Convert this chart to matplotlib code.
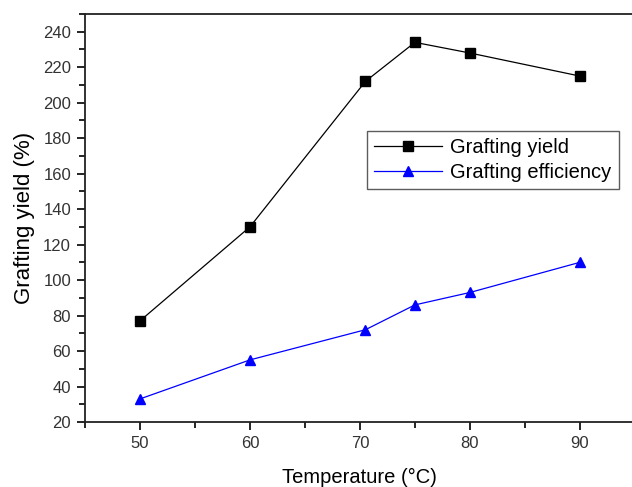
import matplotlib
matplotlib.use("Agg")
import matplotlib.pyplot as plt
from matplotlib.ticker import MultipleLocator

plt.rcParams['font.family'] = ['Liberation Sans', 'DejaVu Sans']

# data
temp = [50, 60, 70.5, 75, 80, 90]
yield_pct = [77, 130, 212, 234, 228, 215]
efficiency = [33, 55, 72, 86, 93, 110]

fig = plt.figure(figsize=(6.32, 4.87), dpi=100)
ax = fig.add_axes([0.1345, 0.1335, 0.870, 0.8378])

ax.plot(temp, yield_pct, color='black', lw=0.9, marker='s', ms=6.5,
        label='Grafting yield')
ax.plot(temp, efficiency, color='blue', lw=0.9, marker='^', ms=7.5,
        label='Grafting efficiency')

ax.set_xlim(45, 95)
ax.set_ylim(20, 250)
ax.set_xticks([50, 60, 70, 80, 90])
ax.set_yticks(range(20, 241, 20))
ax.xaxis.set_minor_locator(MultipleLocator(5))
ax.yaxis.set_minor_locator(MultipleLocator(10))
ax.tick_params(which='major', direction='out', length=6, width=1.2,
               labelsize=12, labelcolor='#333333', pad=4)
ax.tick_params(which='minor', direction='out', length=4, width=1.2)
for s in ax.spines.values():
    s.set_linewidth(1.3)
    s.set_color('#222222')

ax.set_xlabel('Temperature (°C)', fontsize=14.5, labelpad=12)
ax.set_ylabel('Grafting yield (%)', fontsize=16, labelpad=6)

leg = ax.legend(loc='upper left', bbox_to_anchor=(0.494, 0.738), fontsize=14.5,
                frameon=True, fancybox=False, edgecolor='#333333',
                handlelength=3.4, borderpad=0.35, labelspacing=0.3,
                handletextpad=0.4)
leg.get_frame().set_linewidth(1.0)

fig.savefig('out.png', dpi=100)
